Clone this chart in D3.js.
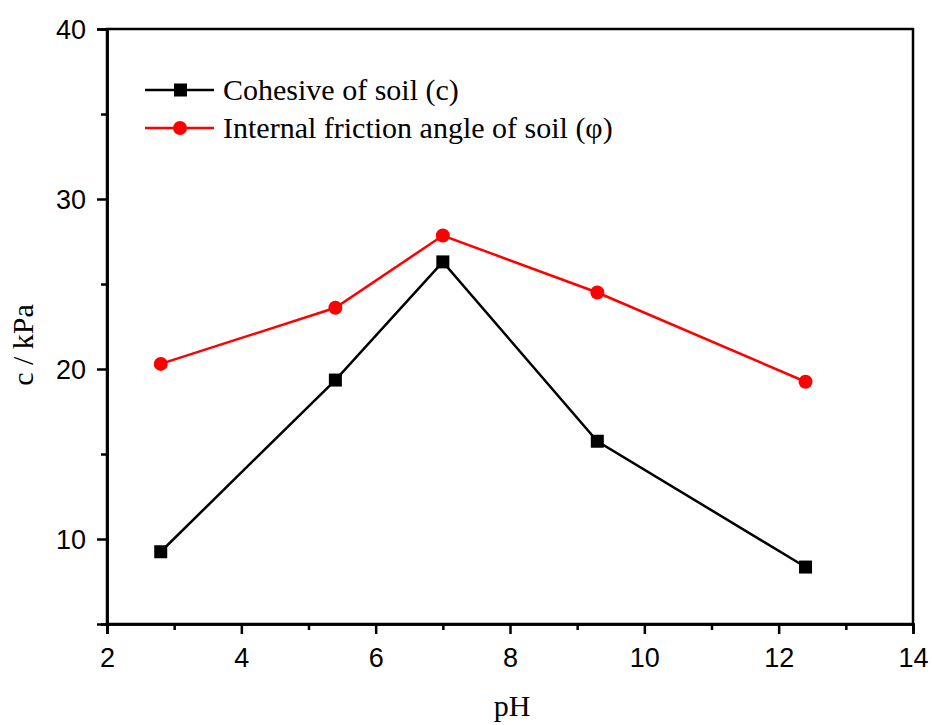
<!DOCTYPE html>
<html>
<head>
<meta charset="utf-8">
<script src="https://cdn.jsdelivr.net/npm/d3@7"></script>
<style>
  body { margin: 0; background: #fff; }
  svg { display: block; }
</style>
</head>
<body>
<svg id="chart" width="932" height="725"></svg>
<script>
// pH of each sample
const phValues = [2.8, 5.4, 7.0, 9.3, 12.4];
// Cohesion c (kPa)
const cohesion = [9.25, 19.35, 26.3, 15.75, 8.35];
// Internal friction angle φ
const frictionAngle = [20.3, 23.6, 27.85, 24.5, 19.25];
const xTicks = [2, 4, 6, 8, 10, 12, 14];
const yTicks = [10, 20, 30, 40];
const seriesNames = ["Cohesive of soil (c)", "Internal friction angle of soil (\u03c6)"];

const svg = d3.select("#chart");
const plotLeft = 107, plotRight = 913, plotTop = 29, plotBottom = 624;

const x = d3.scaleLinear().domain([2, 14]).range([plotLeft, plotRight]);
const y = d3.scaleLinear().domain([5, 40]).range([plotBottom, plotTop]);

const tickFont = "Arial, 'Liberation Sans', sans-serif";
const serif = "'Liberation Serif', 'Times New Roman', serif";

// Frame
svg.append("rect")
  .attr("x", plotLeft).attr("y", plotTop)
  .attr("width", plotRight - plotLeft).attr("height", plotBottom - plotTop)
  .attr("fill", "none").attr("stroke", "#000").attr("stroke-width", 2.5);

// Bottom axis
const xAxis = svg.append("g").attr("transform", `translate(0,${plotBottom})`)
  .call(d3.axisBottom(x).tickValues(xTicks).tickSize(10).tickFormat(d3.format("d")));
const xMinor = svg.append("g").attr("transform", `translate(0,${plotBottom})`)
  .call(d3.axisBottom(x).tickValues(d3.range(3, 14, 2)).tickSize(6).tickFormat(""));

// Left axis
const yAxis = svg.append("g").attr("transform", `translate(${plotLeft},0)`)
  .call(d3.axisLeft(y).tickValues(yTicks).tickSize(10).tickFormat(d3.format("d")));
const yMinor = svg.append("g").attr("transform", `translate(${plotLeft},0)`)
  .call(d3.axisLeft(y).tickValues([15, 25, 35]).tickSize(6).tickFormat(""));

[xAxis, xMinor, yAxis, yMinor].forEach(g => {
  g.select(".domain").attr("stroke", "#000").attr("stroke-width", 2.5);
  g.selectAll(".tick line").attr("stroke", "#000").attr("stroke-width", 2.5);
  g.selectAll(".tick text").attr("fill", "#000")
    .style("font-family", tickFont).style("font-size", "27px");
});
xAxis.selectAll(".tick text").attr("dy", "0.71em").attr("y", 24);
yAxis.selectAll(".tick text").attr("x", -21).attr("dy", "0.35em");

// Axis titles
svg.append("text")
  .attr("x", 512).attr("y", 716)
  .attr("text-anchor", "middle")
  .style("font-family", serif).style("font-size", "30px")
  .text("pH");
svg.append("text")
  .attr("transform", `translate(33,345) rotate(-90)`)
  .attr("text-anchor", "middle")
  .style("font-family", serif).style("font-size", "30px")
  .text("c / kPa");

const line = d3.line().x(d => x(d[0])).y(d => y(d[1]));
const cData = phValues.map((p, i) => [p, cohesion[i]]);
const fData = phValues.map((p, i) => [p, frictionAngle[i]]);

// Friction angle series
svg.append("path").datum(fData).attr("d", line)
  .attr("fill", "none").attr("stroke", "#ff0000").attr("stroke-width", 2.5);
svg.selectAll(".fpt").data(fData).enter().append("circle")
  .attr("cx", d => x(d[0])).attr("cy", d => y(d[1])).attr("r", 7)
  .attr("fill", "#ff0000");

// Cohesion series
svg.append("path").datum(cData).attr("d", line)
  .attr("fill", "none").attr("stroke", "#000").attr("stroke-width", 2.5);
svg.selectAll(".cpt").data(cData).enter().append("rect")
  .attr("x", d => x(d[0]) - 6.5).attr("y", d => y(d[1]) - 6.5)
  .attr("width", 13).attr("height", 13).attr("fill", "#000");

// Legend
const legend = svg.append("g");
const legendRows = [
  { name: seriesNames[0], color: "#000", shape: "square", yPos: 90 },
  { name: seriesNames[1], color: "#ff0000", shape: "circle", yPos: 128 }
];
legendRows.forEach(r => {
  legend.append("line").attr("x1", 145).attr("x2", 214)
    .attr("y1", r.yPos).attr("y2", r.yPos)
    .attr("stroke", r.color).attr("stroke-width", 2.5);
  if (r.shape === "square") {
    legend.append("rect").attr("x", 174).attr("y", r.yPos - 6.5)
      .attr("width", 13).attr("height", 13).attr("fill", r.color);
  } else {
    legend.append("circle").attr("cx", 180).attr("cy", r.yPos).attr("r", 7)
      .attr("fill", r.color);
  }
  legend.append("text").attr("x", 223).attr("y", r.yPos).attr("dy", "0.33em")
    .style("font-family", serif).style("font-size", "30px")
    .text(r.name);
});
</script>
</body>
</html>
